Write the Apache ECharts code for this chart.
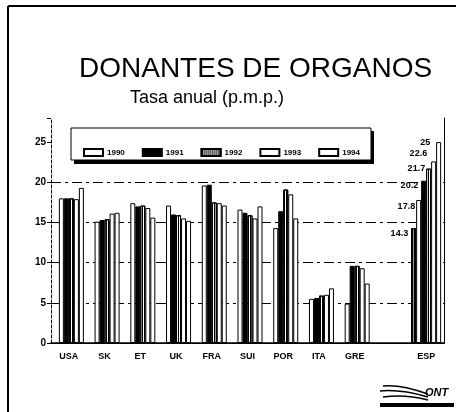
<!DOCTYPE html>
<html>
<head>
<meta charset="utf-8">
<script src="https://cdn.jsdelivr.net/npm/echarts@6/dist/echarts.min.js"></script>
<style>
  html, body { margin: 0; padding: 0; background: #fff; }
  #chart { width: 459px; height: 412px; }
</style>
</head>
<body>
<div id="chart"></div>
<script>
// paises (la categoria vacia deja el hueco antes de ESP)
var countries = ['USA', 'SK', 'ET', 'UK', 'FRA', 'SUI', 'POR', 'ITA', 'GRE', '', 'ESP'];
var years = ['1990', '1991', '1992', '1993', '1994'];
// tasa anual p.m.p.
var y1989 = [null, null, null, null, null, null, null, null, null, null, 14.3];
var y1990 = [18.0, 15.1, 17.4, 17.1, 19.6, 16.6, 14.3, 5.5, 4.9, null, 17.8];
var y1991 = [18.0, 15.3, 17.0, 16.0, 19.7, 16.2, 16.4, 5.6, 9.6, null, 20.2];
var y1992 = [18.0, 15.4, 17.1, 15.9, 17.5, 15.9, 19.1, 5.9, 9.6, null, 21.7];
var y1993 = [17.9, 16.1, 16.8, 15.5, 17.4, 15.5, 18.5, 6.0, 9.3, null, 22.6];
var y1994 = [19.3, 16.2, 15.6, 15.2, 17.1, 17.0, 15.5, 6.8, 7.4, null, 25];
var gridValues = [5, 10, 15, 20];
var labelled = 'ESP';

var font = 'Liberation Sans, Arial, sans-serif';

var hatch = {
  color: '#000',
  symbol: 'rect',
  symbolSize: 1,
  dashArrayX: [1, 1],
  dashArrayY: [1, 0],
  rotation: 0
};

function withLabels(values) {
  return values.map(function (v, i) {
    if (countries[i] === labelled && v != null) {
      return { value: v, label: { show: true } };
    }
    return v;
  });
}

// labelPos: donde va la etiqueta respecto a la esquina superior izquierda de la barra
function barSeries(name, values, style, labelPos) {
  return {
    name: name,
    type: 'bar',
    z: 3,
    data: withLabels(values),
    barWidth: 5,
    barGap: '0%',
    itemStyle: style,
    label: {
      show: false,
      position: labelPos,
      align: 'right',
      verticalAlign: 'middle',
      fontFamily: font,
      fontWeight: 'bold',
      fontSize: 9,
      color: '#000'
    }
  };
}

var whiteBar = { color: '#fff', borderColor: '#000', borderWidth: 1 };
var blackBar = { color: '#000', borderColor: '#000', borderWidth: 1 };
var hatchBar = { color: '#fff', borderColor: '#000', borderWidth: 1, decal: hatch };
var grayBar = { color: '#999', borderColor: '#000', borderWidth: 1, decal: hatch };

var series = [
  barSeries('1989', y1989, grayBar, [-3, 5]),
  barSeries('1990', y1990, whiteBar, [-1, 7]),
  barSeries('1991', y1991, blackBar, [-3, 5]),
  barSeries('1992', y1992, hatchBar, [-1, 0]),
  barSeries('1993', y1993, whiteBar, [-4, -8]),
  barSeries('1994', y1994, whiteBar, [-6, 0])
];
series[1].markLine = {
  silent: true,
  z: 1,
  symbol: 'none',
  label: { show: false },
  lineStyle: { color: '#000', width: 1, type: [10, 4, 3, 4] },
  data: gridValues.map(function (v) { return { yAxis: v }; })
};

var myChart = echarts.init(document.getElementById('chart'), null, { renderer: 'canvas' });
var option = {
  animation: false,
  backgroundColor: '#fff',
  textStyle: { fontFamily: font },
  title: [
    {
      text: 'DONANTES DE ORGANOS',
      left: 74,
      top: 50,
      textStyle: { fontFamily: font, fontSize: 28, fontWeight: 'normal', color: '#000' }
    },
    {
      text: 'Tasa anual (p.m.p.)',
      left: 125,
      top: 84,
      textStyle: { fontFamily: font, fontSize: 18, fontWeight: 'normal', color: '#000' }
    }
  ],
  legend: {
    data: years,
    icon: 'rect',
    left: 78,
    top: 143,
    itemWidth: 19,
    itemHeight: 7,
    itemGap: 17,
    textStyle: { fontFamily: font, fontSize: 8, fontWeight: 'bold', color: '#000', padding: [0, 0, 0, -1] }
  },
  grid: { left: 51, right: 15, top: 118, bottom: 69 },
  xAxis: [
    {
      type: 'category',
      data: countries,
      axisLine: { lineStyle: { color: '#000', width: 1.5 } },
      axisTick: { show: false },
      axisLabel: { fontFamily: font, fontWeight: 'bold', fontSize: 9, color: '#000', margin: 9 }
    },
    {
      type: 'category',
      data: countries,
      position: 'top',
      axisLine: { lineStyle: { color: '#000', width: 1 } },
      axisTick: { show: false },
      axisLabel: { show: false }
    }
  ],
  yAxis: [
    {
      type: 'value',
      min: 0,
      max: 28,
      interval: 5,
      axisLine: { show: true, lineStyle: { color: '#000', width: 1, type: [3, 2] } },
      axisTick: { show: true, length: 4, lineStyle: { color: '#000' } },
      axisLabel: {
        fontFamily: font, fontWeight: 'bold', fontSize: 10, color: '#000', margin: 5,
        formatter: function (v) { return v % 5 === 0 ? String(v) : ''; }
      },
      splitLine: { show: false }
    },
    {
      type: 'value',
      min: 0,
      max: 28,
      position: 'right',
      axisLine: { show: true, lineStyle: { color: '#000', width: 1 } },
      axisTick: { show: false },
      axisLabel: { show: false },
      splitLine: { show: false }
    }
  ],
  series: series,
  graphic: [
    // marco de la pagina
    { type: 'line', shape: { x1: 8, y1: 6, x2: 456, y2: 6 }, style: { stroke: '#000', lineWidth: 2 } },
    { type: 'line', shape: { x1: 8, y1: 6, x2: 8, y2: 412 }, style: { stroke: '#000', lineWidth: 2 } },
    // caja de la leyenda con sombra
    { type: 'rect', z: 3, shape: { x: 74, y: 131, width: 300, height: 33 }, style: { fill: '#000' } },
    { type: 'rect', z: 3, shape: { x: 71, y: 128, width: 300, height: 32 }, style: { fill: '#fff', stroke: '#000', lineWidth: 1 } },
    // logo ONT
    { type: 'bezierCurve', shape: { x1: 383, y1: 386, cpx1: 400, cpy1: 384, x2: 428, y2: 394 }, style: { stroke: '#000', lineWidth: 1.5, fill: null } },
    { type: 'bezierCurve', shape: { x1: 380, y1: 391, cpx1: 400, cpy1: 389, x2: 428, y2: 397 }, style: { stroke: '#000', lineWidth: 1.5, fill: null } },
    { type: 'bezierCurve', shape: { x1: 383, y1: 397, cpx1: 405, cpy1: 394, x2: 428, y2: 400 }, style: { stroke: '#000', lineWidth: 1.5, fill: null } },
    { type: 'text', left: 425, top: 387, style: { text: 'ONT', fontFamily: font, fontSize: 11, fontWeight: 'bold', fontStyle: 'italic', fill: '#000' } },
    { type: 'rect', shape: { x: 380, y: 403, width: 74, height: 4 }, style: { fill: '#000' } }
  ]
};
myChart.setOption(option);
</script>
</body>
</html>
